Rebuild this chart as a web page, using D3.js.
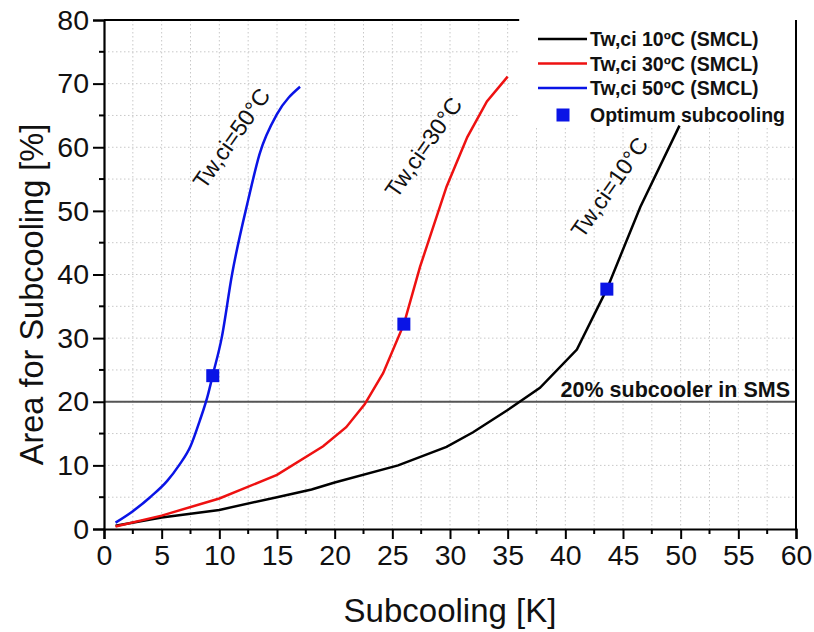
<!DOCTYPE html>
<html><head><meta charset="utf-8">
<script src="https://cdn.jsdelivr.net/npm/d3@7"></script>
<style>body{margin:0;background:#fff}svg{display:block}text{font-family:"Liberation Sans",Arial,sans-serif}</style>
</head><body><svg id="c" width="814" height="632"></svg>
<script>
// ---- data ----
const seriesNames = ["Tw,ci 10ºC (SMCL)", "Tw,ci 30ºC (SMCL)", "Tw,ci 50ºC (SMCL)"];
const seriesColors = ["#000000", "#ee1111", "#0a14e6"];
const curve10 = [[1,0.5],[5,1.8],[10,3.0],[15,5.0],[18,6.2],[20,7.3],[25.5,10],[29.7,12.9],[32,15.2],[35,18.7],[37.8,22.2],[41,28.2],[43.6,37.7],[46.5,50.6],[49.9,63.4]];
const curve30 = [[1,0.4],[5,2.1],[10,4.8],[15,8.5],[19,13],[21,16],[22.6,19.6],[24.2,24.5],[26,32.2],[27.4,41.2],[29.7,53.8],[31.5,61.6],[33.2,67.2],[35,71.1]];
const curve50 = [[1,1.0],[2.5,2.8],[4,5],[5.5,7.6],[6.5,10],[7.5,13],[8.3,17],[9,21],[9.43,24.2],[10.2,30],[11.1,40],[12.5,51.7],[13.5,59],[15,65.2],[17,69.5]];
const optimum = [[9.43,24.1],[26.0,32.2],[43.6,37.7]];
const optimumLabel = "Optimum subcooling";
const annotations = ["Tw,ci=50°C","Tw,ci=30°C","Tw,ci=10°C"];
const refLine = 20, refLabel = "20% subcooler in SMS";
const xTicks = [0,5,10,15,20,25,30,35,40,45,50,55,60];
const yTicks = [0,10,20,30,40,50,60,70,80];
const xTitle = "Subcooling [K]", yTitle = "Area for Subcooling [%]";

// ---- layout ----
const svg = d3.select("#c");
const L=104, T=20, R=796, B=529;
const x = d3.scaleLinear().domain([0,60]).range([L,R]);
const y = d3.scaleLinear().domain([0,80]).range([B,T]);

// grid
const g = svg.append("g");
const xg = d3.range(2.5,60,2.5), yg = d3.range(5,80,5);
g.selectAll(".vx").data(xg).join("line").attr("x1",d=>x(d)).attr("x2",d=>x(d)).attr("y1",T).attr("y2",B)
 .attr("stroke","#c8c8c8").attr("stroke-width",1).attr("stroke-dasharray","1.5,2.5");
g.selectAll(".hy").data(yg).join("line").attr("x1",L).attr("x2",R).attr("y1",d=>y(d)).attr("y2",d=>y(d))
 .attr("stroke","#c8c8c8").attr("stroke-width",1).attr("stroke-dasharray","1.5,2.5");

// reference line
svg.append("line").attr("x1",L).attr("x2",R).attr("y1",y(refLine)).attr("y2",y(refLine)).attr("stroke","#555").attr("stroke-width",2);
svg.append("text").attr("x",790).attr("y",y(refLine)-5).attr("text-anchor","end").attr("font-weight","bold").attr("font-size",21.5).attr("fill","#111").text(refLabel);

// legend background
svg.append("rect").attr("x",x(36)).attr("y",10).attr("width",R-x(36)-1).attr("height",118).attr("fill","#fff");

// axes
const xAxis = d3.axisBottom(x).tickValues(xTicks).tickSize(10).tickPadding(6).tickFormat(d3.format("d"));
const xa = svg.append("g").attr("transform",`translate(0,${B})`).call(xAxis);
const yAxis = d3.axisLeft(y).tickValues(yTicks).tickSize(11).tickPadding(4).tickFormat(d3.format("d"));
const ya = svg.append("g").attr("transform",`translate(${L},0)`).call(yAxis);
[xa,ya].forEach(a=>{a.select(".domain").attr("stroke","#000").attr("stroke-width",2.2);
 a.selectAll(".tick line").attr("stroke","#000").attr("stroke-width",2);
 a.selectAll(".tick text").attr("font-size",28.5).attr("fill","#111").attr("font-family","Liberation Sans, Arial, sans-serif");});
// minor ticks
svg.selectAll(".mx").data(d3.range(2.5,60,5)).join("line").attr("x1",d=>x(d)).attr("x2",d=>x(d)).attr("y1",B).attr("y2",B+5).attr("stroke","#000").attr("stroke-width",2);
svg.selectAll(".my").data(d3.range(5,80,10)).join("line").attr("x1",L-5).attr("x2",L).attr("y1",d=>y(d)).attr("y2",d=>y(d)).attr("stroke","#000").attr("stroke-width",2);
// top/right border
svg.append("line").attr("x1",L).attr("x2",x(36)).attr("y1",T).attr("y2",T).attr("stroke","#000").attr("stroke-width",2.2);
svg.append("line").attr("x1",R).attr("x2",R).attr("y1",T).attr("y2",B).attr("stroke","#000").attr("stroke-width",2);

// titles
svg.append("text").attr("x",x(30)).attr("y",622).attr("text-anchor","middle").attr("font-size",33).attr("fill","#111").text(xTitle);
svg.append("text").attr("transform",`translate(43,${(T+B)/2+20}) rotate(-90)`).attr("text-anchor","middle").attr("font-size",32.5).attr("fill","#111").text(yTitle);

// curves
const lineLin = d3.line().x(d=>x(d[0])).y(d=>y(d[1]));
const lineMono = d3.line().x(d=>x(d[0])).y(d=>y(d[1])).curve(d3.curveMonotoneX);
[[curve10,lineLin],[curve30,lineLin],[curve50,lineMono]].forEach(([c,l],i)=>{
  svg.append("path").attr("d",l(c)).attr("fill","none").attr("stroke",seriesColors[i]).attr("stroke-width",2.5);
});
// markers
svg.selectAll(".opt").data(optimum).join("rect").attr("x",d=>x(d[0])-6.5).attr("y",d=>y(d[1])-6.5).attr("width",13).attr("height",13).attr("fill","#0a14e6");

// annotations
const annPos = [[238,143],[430,152],[616,192]];
annotations.forEach((a,i)=>{
  svg.append("text").attr("transform",`translate(${annPos[i][0]},${annPos[i][1]}) rotate(-55)`).attr("text-anchor","middle")
   .attr("font-size",23).attr("fill","#111").text(a);
});

// legend
const lg = svg.append("g");
seriesNames.forEach((n,i)=>{
  const yy = 39 + i*24.5;
  lg.append("line").attr("x1",538).attr("x2",587).attr("y1",yy).attr("y2",yy).attr("stroke",seriesColors[i]).attr("stroke-width",2.5);
  lg.append("text").attr("x",590).attr("y",yy+7).attr("font-weight","bold").attr("font-size",19.5).attr("fill","#111").text(n);
});
lg.append("rect").attr("x",556.5).attr("y",108.5).attr("width",13).attr("height",13).attr("fill","#0a14e6");
lg.append("text").attr("x",590).attr("y",122).attr("font-weight","bold").attr("font-size",19.5).attr("fill","#111").text(optimumLabel);
</script></body></html>
